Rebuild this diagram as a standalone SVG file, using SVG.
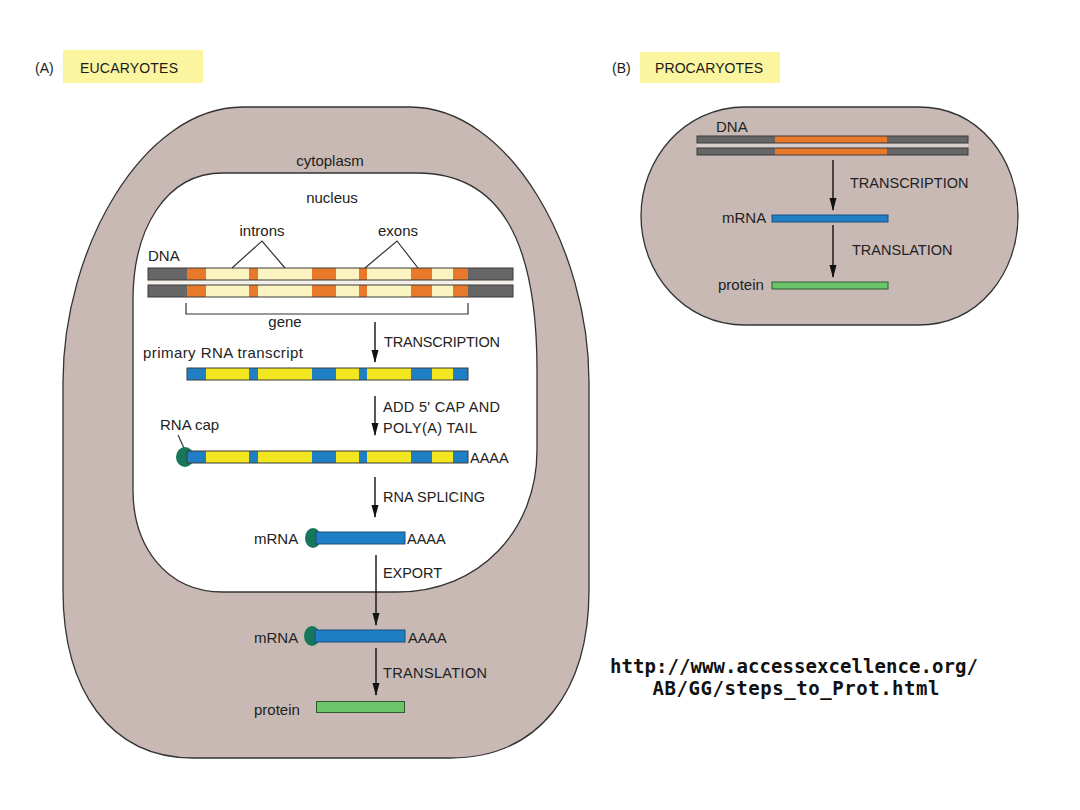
<svg xmlns="http://www.w3.org/2000/svg" xmlns:xlink="http://www.w3.org/1999/xlink" width="1080" height="810" viewBox="0 0 1080 810">
<style>
.t{font-family:"Liberation Sans",Arial,sans-serif;font-size:15px;fill:#222}
.c{font-family:"Liberation Sans",Arial,sans-serif;font-size:14.5px;fill:#222}
.h{font-family:"Liberation Sans",Arial,sans-serif;font-size:14px;fill:#1a1a1a}
.url{font-family:"DejaVu Sans Mono",monospace;font-weight:bold;font-size:19px;fill:#111}
.cell{fill:#c9b9b5;stroke:#333;stroke-width:1.3}
.nuc{fill:#fff;stroke:#333;stroke-width:1.3}
.hdr{fill:#fbf5a0}
.grey{fill:#666}
.or{fill:#e8782a}
.cr{fill:#fcf4c0}
.bl{fill:#1f7fc4}
.ye{fill:#f2e620}
.gr{fill:#6cc46a;stroke:#2e5a2e;stroke-width:1}
.cap{fill:#16775a}
.ol{fill:none;stroke:#3a3a3a;stroke-width:1}
.arr{stroke:#111;stroke-width:1.4;fill:none;marker-end:url(#ah)}
.ln{stroke:#333;stroke-width:1.2;fill:none}
</style>
<defs>
<marker id="ah" markerUnits="userSpaceOnUse" markerWidth="13" markerHeight="8" viewBox="0 0 13 8" refX="12" refY="4" orient="auto">
<path d="M0,0.5 L13,4 L0,7.5 Z" fill="#111"/>
</marker>
<g id="dnaSegs">
<rect class="grey" x="148" y="0" width="39" height="12"/>
<rect class="or" x="187" y="0" width="19" height="12"/>
<rect class="cr" x="206" y="0" width="43" height="12"/>
<rect class="or" x="249" y="0" width="9" height="12"/>
<rect class="cr" x="258" y="0" width="54" height="12"/>
<rect class="or" x="312" y="0" width="24" height="12"/>
<rect class="cr" x="336" y="0" width="23" height="12"/>
<rect class="or" x="359" y="0" width="8" height="12"/>
<rect class="cr" x="367" y="0" width="44" height="12"/>
<rect class="or" x="411" y="0" width="21" height="12"/>
<rect class="cr" x="432" y="0" width="21" height="12"/>
<rect class="or" x="453" y="0" width="15" height="12"/>
<rect class="grey" x="468" y="0" width="45" height="12"/>
<rect class="ol" x="148" y="0" width="365" height="12"/>
</g>
<g id="rnaSegs">
<rect class="bl" x="187" y="0" width="19" height="12"/>
<rect class="ye" x="206" y="0" width="43" height="12"/>
<rect class="bl" x="249" y="0" width="9" height="12"/>
<rect class="ye" x="258" y="0" width="54" height="12"/>
<rect class="bl" x="312" y="0" width="24" height="12"/>
<rect class="ye" x="336" y="0" width="23" height="12"/>
<rect class="bl" x="359" y="0" width="8" height="12"/>
<rect class="ye" x="367" y="0" width="44" height="12"/>
<rect class="bl" x="411" y="0" width="21" height="12"/>
<rect class="ye" x="432" y="0" width="21" height="12"/>
<rect class="bl" x="453" y="0" width="15" height="12"/>
<rect class="ol" x="187" y="0" width="281" height="12"/>
</g>
</defs>
<rect width="1080" height="810" fill="#fff"/>

<g id="header-a">
<text class="h" x="35" y="73" font-size="12">(A)</text>
<rect class="hdr" x="63" y="50" width="140" height="33"/>
<text class="h" x="80" y="73" textLength="98">EUCARYOTES</text>
</g>
<g id="header-b">
<text class="h" x="612" y="73" font-size="12">(B)</text>
<rect class="hdr" x="640" y="52" width="140" height="31"/>
<text class="h" x="655" y="73" textLength="108">PROCARYOTES</text>
</g>

<g id="eukaryotic-cell">
<path class="cell" d="M243,107 H410 C510,107 589,250 589,382 V590 C589,690 540,758 450,758 H193 C110,758 63,690 63,590 V382 C63,250 142,107 243,107 Z"/>
<text class="t" x="330" y="166" text-anchor="middle">cytoplasm</text>
</g>
<g id="nucleus">
<path class="nuc" d="M223,173 H417 C500,173 537,240 537,370 V450 C537,530 480,592 397,592 H223 C165,592 133,545 133,490 V300 C133,230 165,173 223,173 Z"/>
<text class="t" x="332" y="203" text-anchor="middle">nucleus</text>
</g>

<g id="dna">
<text class="t" x="148" y="261">DNA</text>
<rect x="148" y="280" width="365" height="5" fill="#f4f0e8"/>
<use xlink:href="#dnaSegs" y="268"/>
<use xlink:href="#dnaSegs" y="285"/>
<text class="t" x="262" y="236" text-anchor="middle">introns</text>
<polyline class="ln" points="232,268 262,241 285,268"/>
<text class="t" x="398" y="236" text-anchor="middle">exons</text>
<polyline class="ln" points="365,268 397,241 418,268"/>
<path class="ln" d="M186,303 V314 H468 V303" stroke-width="1"/>
<text class="t" x="285" y="327" text-anchor="middle">gene</text>
</g>

<g id="primary-transcript">
<text class="t" x="143" y="358" textLength="160">primary RNA transcript</text>
<use xlink:href="#rnaSegs" y="368"/>
</g>

<g id="capped-transcript">
<text class="t" x="160" y="430">RNA cap</text>
<line class="ln" x1="178" y1="435" x2="184" y2="448" stroke-width="1"/>
<ellipse class="cap" cx="185" cy="457" rx="9" ry="10"/>
<use xlink:href="#rnaSegs" y="451"/>
<text class="c" x="470" y="463" font-size="15">AAAA</text>
</g>

<g id="mrna-nucleus">
<text class="t" x="254" y="544">mRNA</text>
<ellipse class="cap" cx="313" cy="538" rx="8" ry="10"/>
<rect class="bl" x="316" y="532" width="89" height="12" stroke="#1a4f80" stroke-width="1"/>
<text class="c" x="407" y="544" font-size="15">AAAA</text>
</g>

<g id="mrna-cytoplasm">
<text class="t" x="254" y="643">mRNA</text>
<ellipse class="cap" cx="312" cy="636" rx="8" ry="10"/>
<rect class="bl" x="315" y="630" width="90" height="12" stroke="#1a4f80" stroke-width="1"/>
<text class="c" x="408" y="643" font-size="15">AAAA</text>
</g>

<g id="protein-euk">
<text class="t" x="254" y="715">protein</text>
<rect class="gr" x="316.5" y="701.5" width="88" height="11"/>
</g>

<g id="prokaryotic-cell">
<path class="cell" d="M745,107 H918 C980,107 1018,160 1018,216 C1018,272 980,325 918,325 H745 C683,325 641,272 641,216 C641,160 683,107 745,107 Z"/>
<text class="t" x="716" y="132">DNA</text>
<rect x="697" y="143" width="271" height="5" fill="#d8cfcc"/>
<rect class="grey" x="697" y="136" width="271" height="7"/>
<rect class="or" x="775" y="136" width="112" height="7"/>
<rect class="ol" x="697" y="136" width="271" height="7"/>
<rect class="grey" x="697" y="148" width="271" height="7"/>
<rect class="or" x="775" y="148" width="112" height="7"/>
<rect class="ol" x="697" y="148" width="271" height="7"/>
<text class="c" x="850" y="188">TRANSCRIPTION</text>
<text class="t" x="722" y="223">mRNA</text>
<rect class="bl" x="772" y="215" width="116" height="7" stroke="#1a4f80" stroke-width="1"/>
<text class="c" x="852" y="255">TRANSLATION</text>
<text class="t" x="718" y="290">protein</text>
<rect class="gr" x="772" y="282" width="116" height="7"/>
</g>

<g id="connectors">
<line class="arr" x1="375" y1="322" x2="375" y2="362"/>
<line class="arr" x1="375" y1="396" x2="375" y2="435"/>
<line class="arr" x1="375" y1="477" x2="375" y2="517"/>
<line class="arr" x1="376" y1="555" x2="376" y2="625"/>
<line class="arr" x1="376" y1="648" x2="376" y2="695"/>
<line class="arr" x1="833" y1="160" x2="833" y2="210"/>
<line class="arr" x1="833" y1="225" x2="833" y2="277"/>
</g>

<g id="step-labels">
<text class="c" x="384" y="347" textLength="116">TRANSCRIPTION</text>
<text class="c" x="383" y="412" textLength="117">ADD 5' CAP AND</text>
<text class="c" x="383" y="433" textLength="94">POLY(A) TAIL</text>
<text class="c" x="383" y="502" textLength="102">RNA SPLICING</text>
<text class="c" x="383" y="578" textLength="59">EXPORT</text>
<text class="c" x="383" y="678" textLength="104">TRANSLATION</text>
</g>

<g id="url">
<text class="url" x="794" y="673" text-anchor="middle" textLength="368">http://www.accessexcellence.org/</text>
<text class="url" x="796" y="695" text-anchor="middle" textLength="287">AB/GG/steps_to_Prot.html</text>
</g>
</svg>
